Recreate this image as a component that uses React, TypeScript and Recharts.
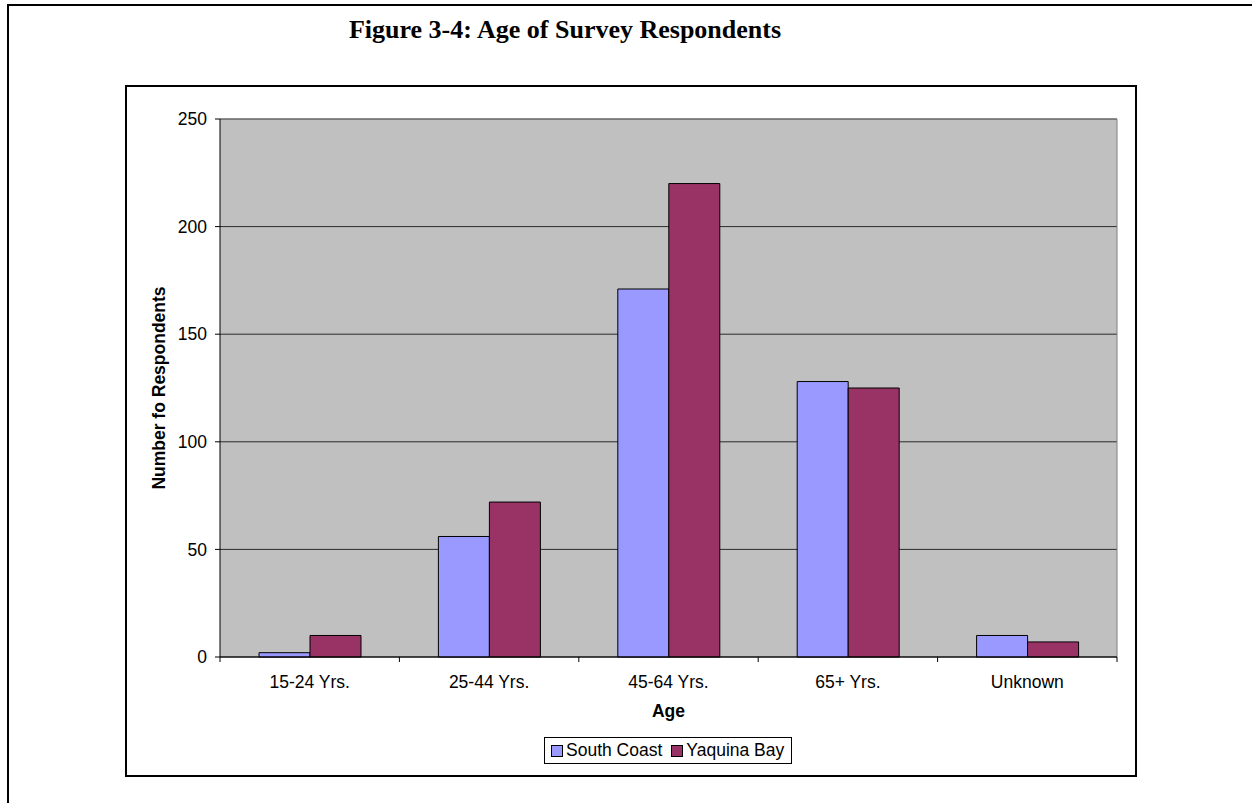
import React from 'react';
import {
  BarChart,
  Bar,
  XAxis,
  YAxis,
  CartesianGrid,
  Legend,
} from 'recharts';

// Age groups and respondent counts per survey area
const categories = ['15-24 Yrs.', '25-44 Yrs.', '45-64 Yrs.', '65+ Yrs.', 'Unknown'];
const southCoast = [2, 56, 171, 128, 10];
const yaquinaBay = [10, 72, 220, 125, 7];
const yTicks = [0, 50, 100, 150, 200, 250];

const seriesNames = ['South Coast', 'Yaquina Bay'];
const seriesColors = ['#9999FF', '#993366'];

const rows = categories.map((age, i) => ({
  age,
  southCoast: southCoast[i],
  yaquinaBay: yaquinaBay[i],
}));

const SANS = "Arial, 'Liberation Sans', sans-serif";
const SERIF = "'Times New Roman', 'Liberation Serif', serif";
const FONT_SIZE = 17.5;

// Category label at the band centre, tick marks on the band boundaries
const CategoryTick = (props: any) => {
  const { x, y, payload, width, visibleTicksCount, index } = props;
  const band =
    width && visibleTicksCount ? width / visibleTicksCount : 2 * (payload?.offset ?? 0);
  const left = x - band / 2;
  const right = x + band / 2;
  return (
    <g>
      <line x1={left} x2={left} y1={y} y2={y + 5} stroke="#000" strokeWidth={1} />
      {index === visibleTicksCount - 1 && (
        <line x1={right} x2={right} y1={y} y2={y + 5} stroke="#000" strokeWidth={1} />
      )}
      <text
        x={x}
        y={y + 31}
        textAnchor="middle"
        fill="#000"
        fontSize={FONT_SIZE}
        fontFamily={SANS}
      >
        {payload.value}
      </text>
    </g>
  );
};

const YLabel = (props: any) => {
  const { viewBox } = props;
  const cx = viewBox.x + 33;
  const cy = viewBox.y + viewBox.height / 2;
  return (
    <text
      x={cx}
      y={cy}
      transform={`rotate(-90, ${cx}, ${cy})`}
      textAnchor="middle"
      dominantBaseline="central"
      fontSize={FONT_SIZE}
      fontWeight="bold"
      fontFamily={SANS}
      fill="#000"
    >
      Number fo Respondents
    </text>
  );
};

const XLabel = (props: any) => {
  const { viewBox } = props;
  return (
    <text
      x={viewBox.x + viewBox.width / 2}
      y={viewBox.y + 60}
      textAnchor="middle"
      fontSize={FONT_SIZE}
      fontWeight="bold"
      fontFamily={SANS}
      fill="#000"
    >
      Age
    </text>
  );
};

const LegendBox = (props: any) => {
  const { payload } = props;
  return (
    <div
      style={{
        display: 'inline-flex',
        alignItems: 'center',
        border: '1px solid #000',
        background: '#fff',
        padding: '3px 7px 3px 6px',
        fontFamily: SANS,
        fontSize: FONT_SIZE,
        lineHeight: '19px',
        color: '#000',
        whiteSpace: 'nowrap',
      }}
    >
      {(payload || []).map((entry: any, i: number) => (
        <span key={i} style={{ display: 'inline-flex', alignItems: 'center', marginRight: i === 0 ? 9 : 0 }}>
          <span
            style={{
              display: 'inline-block',
              width: 10,
              height: 10,
              background: entry.color,
              border: '1px solid #000',
              marginRight: 3,
            }}
          />
          {entry.value}
        </span>
      ))}
    </div>
  );
};

export default function App() {
  return (
    <div style={{ position: 'absolute', left: 0, top: 0, width: 1252, height: 803, background: '#fff' }}>
      {/* page frame */}
      <div
        style={{
          position: 'absolute',
          left: 7,
          top: 4,
          width: 1245,
          height: 799,
          borderLeft: '2px solid #000',
          borderTop: '2px solid #000',
          boxSizing: 'border-box',
        }}
      />
      <div
        style={{
          position: 'absolute',
          left: 265,
          width: 600,
          top: 15,
          textAlign: 'center',
          fontFamily: SERIF,
          fontWeight: 'bold',
          fontSize: 26,
          lineHeight: '30px',
          whiteSpace: 'nowrap',
          color: '#000',
        }}
      >
        Figure 3-4: Age of Survey Respondents
      </div>
      {/* chart frame */}
      <div
        style={{
          position: 'absolute',
          left: 125,
          top: 85,
          width: 1012,
          height: 692,
          border: '2px solid #000',
          boxSizing: 'border-box',
        }}
      />
      <div style={{ position: 'absolute', left: 0, top: 0 }}>
        <BarChart
          width={1252}
          height={803}
          data={rows}
          margin={{ top: 119, right: 135, left: 126, bottom: 59 }}
          barGap={0}
          barSize={51}
        >
          <CartesianGrid vertical={false} stroke="#2a2a2a" strokeWidth={1} fill="#C0C0C0" fillOpacity={1} />
          <CartesianGrid
            fill="none"
            stroke="#808080"
            strokeWidth={1}
            horizontalCoordinatesGenerator={({ offset }: any) => [offset.top]}
            verticalCoordinatesGenerator={({ offset }: any) => [offset.left + offset.width]}
          />
          <XAxis
            dataKey="age"
            height={60}
            axisLine={{ stroke: '#000', strokeWidth: 1 }}
            tickLine={false}
            tickSize={0}
            tickMargin={0}
            interval={0}
            tick={<CategoryTick />}
            label={<XLabel />}
          />
          <YAxis
            width={94}
            domain={[0, 250]}
            ticks={yTicks}
            interval={0}
            axisLine={{ stroke: '#000', strokeWidth: 1 }}
            tickLine={{ stroke: '#000', strokeWidth: 1 }}
            tickSize={5}
            tickMargin={8}
            tick={{ fill: '#000', fontSize: FONT_SIZE, fontFamily: SANS }}
            label={<YLabel />}
          />
          <Legend
            verticalAlign="bottom"
            content={<LegendBox />}
            wrapperStyle={{ left: 544, top: 737, bottom: 'auto', width: 'auto' }}
          />
          <Bar
            dataKey="southCoast"
            name={seriesNames[0]}
            fill={seriesColors[0]}
            stroke="#000"
            strokeWidth={1}
            isAnimationActive={false}
          />
          <Bar
            dataKey="yaquinaBay"
            name={seriesNames[1]}
            fill={seriesColors[1]}
            stroke="#000"
            strokeWidth={1}
            isAnimationActive={false}
          />
        </BarChart>
      </div>
    </div>
  );
}
